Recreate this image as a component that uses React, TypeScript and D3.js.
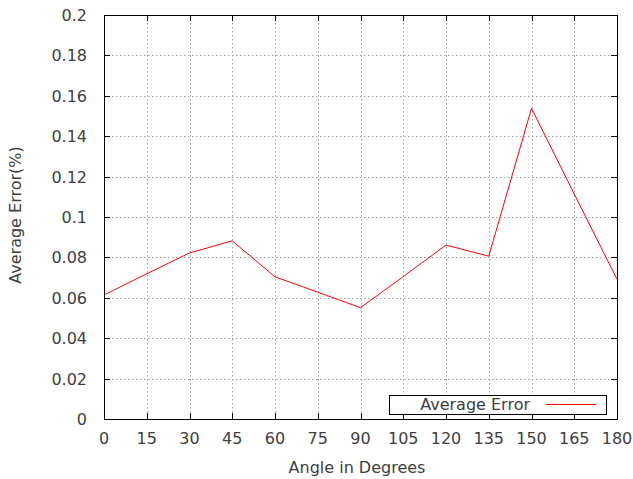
import React, { useEffect, useRef } from 'react';
import * as d3 from 'd3';

// angles (degrees) and the average error
const angles = [0, 15, 30, 45, 60, 75, 90, 105, 120, 135, 150, 165, 180];
const avgError = [0.0614, 0.0719, 0.0822, 0.0882, 0.0704, 0.0628, 0.0551, 0.0705, 0.0861, 0.0806, 0.1538, 0.1114, 0.0692];
const xTicks = [0, 15, 30, 45, 60, 75, 90, 105, 120, 135, 150, 165, 180];
const yTicks = [0, 0.02, 0.04, 0.06, 0.08, 0.1, 0.12, 0.14, 0.16, 0.18, 0.2];

const W = 633;
const H = 479;

const App = () => {
  const ref = useRef<SVGSVGElement>(null);

  useEffect(() => {
    drawChart();
  }, []);

  const drawChart = () => {
    const svg = d3.select(ref.current);
    svg.selectAll('*').remove();

    const left = 104, right = 617, top = 15, bottom = 419;
    const font = 'DejaVu Sans, sans-serif';
    const fs = 16;
    const txt = '#404040';

    const x = d3.scaleLinear().domain([0, 180]).range([left, right]);
    const y = d3.scaleLinear().domain([0, 0.2]).range([bottom, top]);

    svg.append('rect').attr('width', W).attr('height', H).attr('fill', '#fff');

    // grid
    const grid = svg.append('g')
      .attr('stroke', '#a0a0a0')
      .attr('stroke-width', 1)
      .attr('stroke-dasharray', '1.5,2.5');
    grid.selectAll('.gx')
      .data(xTicks.slice(1, -1))
      .enter().append('line')
      .attr('x1', d => Math.round(x(d)) + 0.5)
      .attr('x2', d => Math.round(x(d)) + 0.5)
      .attr('y1', top)
      .attr('y2', bottom);
    grid.selectAll('.gy')
      .data(yTicks.slice(1, -1))
      .enter().append('line')
      .attr('x1', left)
      .attr('x2', right)
      .attr('y1', d => Math.round(y(d)) + 0.5)
      .attr('y2', d => Math.round(y(d)) + 0.5);

    // ticks on all four sides, pointing inward
    const tk = svg.append('g').attr('stroke', '#000').attr('stroke-width', 1);
    const tl = 6;
    xTicks.forEach(d => {
      const px = Math.round(x(d)) + 0.5;
      tk.append('line').attr('x1', px).attr('x2', px).attr('y1', bottom).attr('y2', bottom - tl);
      tk.append('line').attr('x1', px).attr('x2', px).attr('y1', top).attr('y2', top + tl);
    });
    yTicks.forEach(d => {
      const py = Math.round(y(d)) + 0.5;
      tk.append('line').attr('x1', left).attr('x2', left + tl).attr('y1', py).attr('y2', py);
      tk.append('line').attr('x1', right).attr('x2', right - tl).attr('y1', py).attr('y2', py);
    });

    // tick labels
    svg.append('g').selectAll('text')
      .data(xTicks)
      .enter().append('text')
      .attr('x', d => x(d))
      .attr('y', 443.5)
      .attr('text-anchor', 'middle')
      .attr('font-family', font)
      .attr('font-size', fs)
      .attr('fill', txt)
      .text(d => d);
    svg.append('g').selectAll('text')
      .data(yTicks)
      .enter().append('text')
      .attr('x', 87)
      .attr('y', d => y(d) + 6)
      .attr('text-anchor', 'end')
      .attr('font-family', font)
      .attr('font-size', fs)
      .attr('fill', txt)
      .text(d => d3.format('~g')(d));

    // axis titles
    svg.append('text')
      .attr('x', 357)
      .attr('y', 472.5)
      .attr('text-anchor', 'middle')
      .attr('font-family', font)
      .attr('font-size', fs)
      .attr('fill', txt)
      .text('Angle in Degrees');
    svg.append('text')
      .attr('transform', 'translate(20.5,215) rotate(-90)')
      .attr('text-anchor', 'middle')
      .attr('font-family', font)
      .attr('font-size', fs)
      .attr('fill', txt)
      .text('Average Error(%)');

    // data line
    const line = d3.line<number>()
      .x((_, i) => x(angles[i]))
      .y(d => y(d));
    svg.append('path')
      .datum(avgError)
      .attr('d', line)
      .attr('fill', 'none')
      .attr('stroke', '#ff0000')
      .attr('stroke-width', 1);

    // legend
    const lg = svg.append('g');
    lg.append('rect')
      .attr('x', 389.5).attr('y', 395.5)
      .attr('width', 217).attr('height', 19)
      .attr('fill', '#fff')
      .attr('stroke', '#000');
    lg.append('text')
      .attr('x', 530)
      .attr('y', 410)
      .attr('text-anchor', 'end')
      .attr('font-family', font)
      .attr('font-size', fs)
      .attr('fill', txt)
      .text('Average Error');
    lg.append('line')
      .attr('x1', 546).attr('x2', 596)
      .attr('y1', 404.5).attr('y2', 404.5)
      .attr('stroke', '#ff0000');

    // border
    svg.append('rect')
      .attr('x', left + 0.5).attr('y', top + 0.5)
      .attr('width', right - left).attr('height', bottom - top)
      .attr('fill', 'none')
      .attr('stroke', '#000')
      .attr('stroke-width', 1);
  };

  return (
    <div style={{ position: 'fixed', left: 0, top: 0 }}>
      <svg ref={ref} width={W} height={H} style={{ display: 'block' }} />
    </div>
  );
};

export default App;
